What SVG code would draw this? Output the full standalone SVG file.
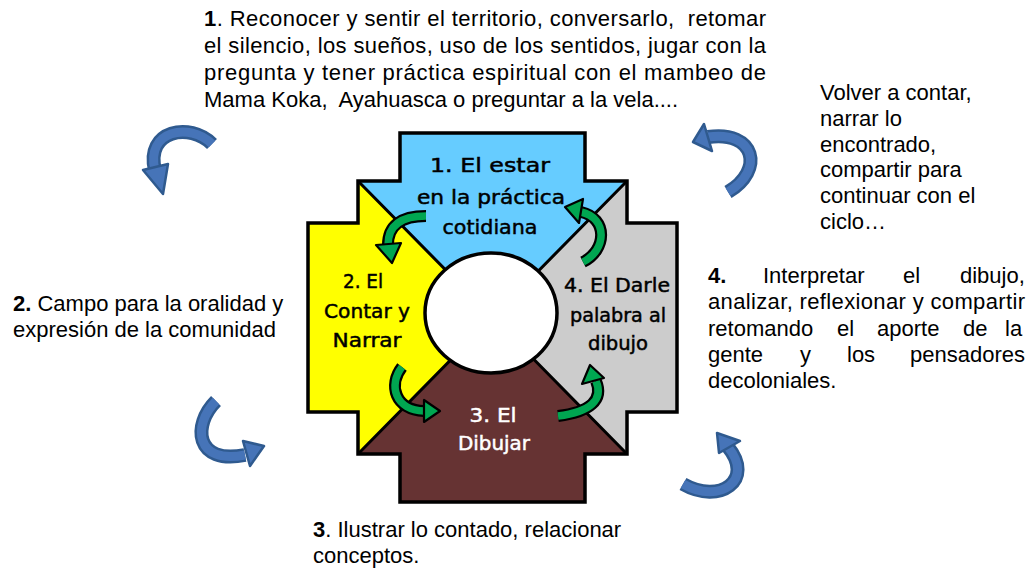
<svg xmlns="http://www.w3.org/2000/svg" width="1029" height="569" viewBox="0 0 1029 569">
<style>
.t{font-family:"Liberation Sans",Arial,sans-serif;font-size:22px;fill:#000}
.b{font-weight:bold}
.q{font-family:"DejaVu Sans","Comic Sans MS",sans-serif;font-size:20px;text-anchor:middle;fill:#000;stroke:#000;stroke-width:0.5}
.w{fill:#fff;stroke:#fff}
.gk{fill:none;stroke:#000;stroke-width:12}
.gg{fill:none;stroke:#00A651;stroke-width:7.5}
.gh{fill:#00A651;stroke:#000;stroke-width:2.2;stroke-linejoin:round}
.bk{fill:none;stroke:#2F5A8F;stroke-width:14}
.bb{fill:none;stroke:#4674B8;stroke-width:9}
.bh{fill:#4674B8;stroke:#2F5A8F;stroke-width:2.5;stroke-linejoin:round}
</style>
<rect width="1029" height="569" fill="#fff"/>
<g id="cross">
<polygon points="492.5,317.5 358,181 400,181 400,133 585,133 585,181 627,181" fill="#66CCFF"/>
<polygon points="492.5,317.5 358,181 358,223 308,223 308,412 358,412 358,454" fill="#FFFF00"/>
<polygon points="492.5,317.5 358,454 400,454 400,502 585,502 585,454 627,454" fill="#663333"/>
<polygon points="492.5,317.5 627,181 627,223 677,223 677,412 627,412 627,454" fill="#CCCCCC"/>
<path d="M358,181 L492.5,317.5 L627,181 M358,454 L492.5,317.5 L627,454" stroke="#000" stroke-width="3" fill="none"/>
<polygon points="400,133 585,133 585,181 627,181 627,223 677,223 677,412 627,412 627,454 585,454 585,502 400,502 400,454 358,454 358,412 308,412 308,223 358,223 358,181 400,181" fill="none" stroke="#000" stroke-width="3.5" stroke-linejoin="miter"/>
<ellipse cx="491" cy="313" rx="66" ry="60" fill="#fff" stroke="#000" stroke-width="3.5"/>
</g>
<g id="q1">
<text class="q" x="490" y="172" textLength="120" lengthAdjust="spacingAndGlyphs">1. El estar</text>
<text class="q" x="491" y="204" textLength="148" lengthAdjust="spacingAndGlyphs">en la práctica</text>
<text class="q" x="490" y="234" textLength="95" lengthAdjust="spacingAndGlyphs">cotidiana</text>
</g>
<g id="q2">
<text class="q" x="363" y="288" textLength="40" lengthAdjust="spacingAndGlyphs">2. El</text>
<text class="q" x="367" y="318" textLength="86" lengthAdjust="spacingAndGlyphs">Contar y</text>
<text class="q" x="367" y="347" textLength="69" lengthAdjust="spacingAndGlyphs">Narrar</text>
</g>
<g id="q3">
<text class="q w" x="493" y="422" textLength="47" lengthAdjust="spacingAndGlyphs">3. El</text>
<text class="q w" x="494" y="450" textLength="72" lengthAdjust="spacingAndGlyphs">Dibujar</text>
</g>
<g id="q4">
<text class="q" x="617" y="292" textLength="106" lengthAdjust="spacingAndGlyphs">4. El Darle</text>
<text class="q" x="618" y="322" textLength="96" lengthAdjust="spacingAndGlyphs">palabra al</text>
<text class="q" x="618" y="350" textLength="60" lengthAdjust="spacingAndGlyphs">dibujo</text>
</g>
<g id="connectors">
<path class="gk" d="M426,216 Q388,216 388,245"/><path class="gg" d="M426,216 Q388,216 388,245"/>
<polygon class="gh" points="376,245 401,243 392,263"/>
<path class="gk" d="M402,367 C388,385 395,410 424,411"/><path class="gg" d="M402,367 C388,385 395,410 424,411"/>
<polygon class="gh" points="424,400 424,422 440,411"/>
<path class="gk" d="M583,262 C607,250 608,218 581,212"/><path class="gg" d="M583,262 C607,250 608,218 581,212"/>
<polygon class="gh" points="565,207 583,199 579,223"/>
<path class="gk" d="M558,416 C590,412 604,400 596,381"/><path class="gg" d="M558,416 C590,412 604,400 596,381"/>
<polygon class="gh" points="590,365 582,384 604,378"/>
<path class="bk" d="M212,144 C190,122 145,130 155,170"/><path class="bb" d="M212,144 C190,122 145,130 155,170"/>
<polygon class="bh" points="143,170 168,164 163,194"/>
<path class="bk" d="M216,401 C192,425 195,465 245,455"/><path class="bb" d="M216,401 C192,425 195,465 245,455"/>
<polygon class="bh" points="243,441 250,466 264,446"/>
<path class="bk" d="M728,192 C765,170 755,130 708,137"/><path class="bb" d="M728,192 C765,170 755,130 708,137"/>
<polygon class="bh" points="704,124 712,151 693,142"/>
<path class="bk" d="M683,484 C720,505 755,480 728,447"/><path class="bb" d="M683,484 C720,505 755,480 728,447"/>
<polygon class="bh" points="717,433 719,453 740,441"/>
</g>
<g id="text1">
<text class="t" x="204" y="26" textLength="562" lengthAdjust="spacing" xml:space="preserve"><tspan class="b">1</tspan>. Reconocer y sentir el territorio, conversarlo,  retomar</text>
<text class="t" x="204" y="53" textLength="562" lengthAdjust="spacing">el silencio, los sueños, uso de los sentidos, jugar con la</text>
<text class="t" x="204" y="80" textLength="562" lengthAdjust="spacing">pregunta y tener práctica espiritual con el mambeo de</text>
<text class="t" x="204" y="107" xml:space="preserve">Mama Koka,  Ayahuasca o preguntar a la vela....</text>
</g>
<g id="text2">
<text class="t" x="13" y="311"><tspan class="b">2.</tspan> Campo para la oralidad y</text>
<text class="t" x="13" y="337">expresión de la comunidad</text>
</g>
<g id="text3">
<text class="t" x="313" y="537"><tspan class="b">3</tspan>. Ilustrar lo contado, relacionar</text>
<text class="t" x="313" y="563">conceptos.</text>
</g>
<g id="text4">
<text class="t" y="283"><tspan class="b" x="708">4.</tspan><tspan x="763">Interpretar</tspan><tspan x="903">el</tspan><tspan x="960">dibujo,</tspan></text>
<text class="t" x="708" y="309" textLength="317" lengthAdjust="spacing">analizar, reflexionar y compartir</text>
<text class="t" y="336"><tspan x="708">retomando</tspan><tspan x="837">el</tspan><tspan x="877">aporte</tspan><tspan x="963">de</tspan><tspan x="1005">la</tspan></text>
<text class="t" y="362"><tspan x="708">gente</tspan><tspan x="800">y</tspan><tspan x="847">los</tspan><tspan x="910">pensadores</tspan></text>
<text class="t" x="708" y="388">decoloniales.</text>
</g>
<g id="text5">
<text class="t" x="820" y="100">Volver a contar,</text>
<text class="t" x="820" y="126">narrar lo</text>
<text class="t" x="820" y="152">encontrado,</text>
<text class="t" x="820" y="177">compartir para</text>
<text class="t" x="820" y="203">continuar con el</text>
<text class="t" x="820" y="229">ciclo…</text>
</g>
</svg>
